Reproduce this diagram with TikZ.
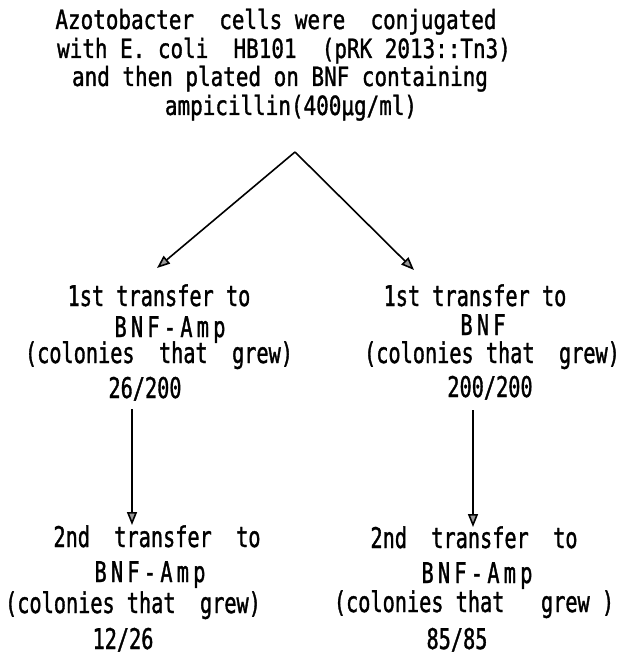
\documentclass[tikz,border=0pt]{standalone}
\usepackage{fontspec}
\usetikzlibrary{arrows.meta}
% stencil-like lettering: condensed monospaced sans
\newfontfamily\topf[FakeStretch=0.79,FakeBold=1.2]{DejaVu Sans Mono}
\newfontfamily\lowf[FakeStretch=0.71,FakeBold=1.2]{DejaVu Sans Mono}
\newfontfamily\loww[FakeStretch=0.71,FakeBold=1.2,LetterSpace=15]{DejaVu Sans Mono}

\begin{document}
\begin{tikzpicture}[x=1pt,y=-1pt,
  toptxt/.style={anchor=base, inner sep=0pt, font=\topf\fontsize{26.5}{28}\selectfont},
  lowtxt/.style={anchor=base, inner sep=0pt, font=\lowf\fontsize{28.5}{30}\selectfont},
  widetxt/.style={anchor=base, inner sep=0pt, font=\loww\fontsize{28.5}{30}\selectfont},
  flow/.style={line width=1.6pt, -{Triangle[length=13pt,width=10pt,fill=black!40]}}]
\useasboundingbox (0,0) rectangle (629,655);

% heading
\node[toptxt] (h1) at (276,29)  {Azotobacter~ cells were~ conjugated};
\node[toptxt] (h2) at (284,58)  {with E. coli~ HB101~ (pRK 2013::Tn3)};
\node[toptxt] (h3) at (280,86)  {and then plated on BNF containing};
\node[toptxt] (h4) at (291,115) {ampicillin(400μg/ml)};

% first transfers
\node[lowtxt]  (a1) at (159,306) {1st transfer to};
\node[widetxt] (a2) at (170,337) {BNF-Amp};
\node[lowtxt]  (a3) at (159,363) {(colonies~ that~ grew)};
\node[lowtxt]  (a4) at (145,398) {26/200};

\node[lowtxt]  (b1) at (475,306) {1st transfer to};
\node[widetxt] (b2) at (483,335) {BNF};
\node[lowtxt]  (b3) at (492,363) {(colonies that~ grew)};
\node[lowtxt]  (b4) at (490,397) {200/200};

% second transfers
\node[lowtxt]  (c1) at (157,547) {2nd~ transfer~ to};
\node[widetxt] (c2) at (150,582) {BNF-Amp};
\node[lowtxt]  (c3) at (133,613) {(colonies that~ grew)};
\node[lowtxt, text depth=0pt] (c4) at (123,649) {12/26};

\node[lowtxt]  (d1) at (474,548) {2nd~ transfer~ to};
\node[widetxt] (d2) at (477,583) {BNF-Amp};
\node[lowtxt]  (d3) at (474,612) {(colonies that~~ grew~)};
\node[lowtxt, text depth=0pt] (d4) at (457,649) {85/85};

% connectors
\coordinate (apex) at (295,152);
\coordinate (tipL) at (157,268);
\coordinate (tipR) at (414,270);
\coordinate (vL0) at (132,409);
\coordinate (vL1) at (132,525);
\coordinate (vR0) at (473,410);
\coordinate (vR1) at (473,527);

\draw[flow] (apex) -- (tipL);
\draw[flow] (apex) -- (tipR);
\draw[flow] (vL0) -- (vL1);
\draw[flow] (vR0) -- (vR1);
\end{tikzpicture}
\end{document}
